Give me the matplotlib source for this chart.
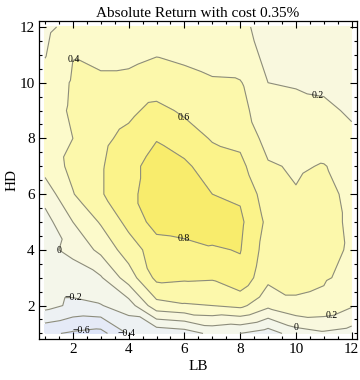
import numpy as np
import matplotlib
matplotlib.use("Agg")
import matplotlib.pyplot as plt
import matplotlib.tri as mtri
from matplotlib.ticker import MultipleLocator

# ---------------- data ----------------
LB = [1, 2, 3, 4, 5, 6, 7, 8, 9, 10, 11, 12]
HD = [1, 2, 3, 4, 5, 6, 7, 8, 9, 10, 11, 12]

# absolute return, one row per HD value (HD = 12 first, HD = 1 last)
ret_hd12 = [0.15, 0.27, 0.30, 0.32, 0.34, 0.33, 0.30, 0.23, 0.15, 0.14, 0.13, 0.12]
ret_hd11 = [0.19, 0.395, 0.36, 0.37, 0.395, 0.37, 0.33, 0.26, 0.17, 0.15, 0.15, 0.13]
ret_hd10 = [0.27, 0.42, 0.43, 0.43, 0.46, 0.45, 0.42, 0.415, 0.20, 0.18, 0.17, 0.15]
ret_hd9 = [0.30, 0.43, 0.48, 0.55, 0.67, 0.56, 0.50, 0.45, 0.30, 0.27, 0.23, 0.18]
ret_hd8 = [0.30, 0.40, 0.55, 0.66, 0.79, 0.72, 0.58, 0.55, 0.33, 0.32, 0.30, 0.23]
ret_hd7 = [0.28, 0.45, 0.58, 0.74, 0.88, 0.83, 0.72, 0.65, 0.42, 0.38, 0.41, 0.32]
ret_hd6 = [0.08, 0.39, 0.58, 0.76, 0.88, 0.90, 0.80, 0.77, 0.49, 0.41, 0.46, 0.35]
ret_hd5 = [-0.08, 0.20, 0.42, 0.66, 0.88, 0.92, 0.90, 0.84, 0.55, 0.48, 0.46, 0.37]
ret_hd4 = [-0.05, 0.05, 0.25, 0.50, 0.70, 0.72, 0.78, 0.81, 0.50, 0.45, 0.45, 0.38]
ret_hd3 = [-0.10, -0.10, -0.02, 0.30, 0.65, 0.63, 0.62, 0.74, 0.45, 0.45, 0.42, 0.35]
ret_hd2 = [-0.13, -0.24, -0.21, -0.10, 0.33, 0.38, 0.40, 0.45, 0.25, 0.37, 0.35, 0.22]
ret_hd1 = [-0.56, -0.63, -0.67, -0.38, -0.35, -0.30, -0.15, -0.20, -0.30, -0.10, -0.03, -0.08]

contour_levels = [-0.6, -0.4, -0.2, 0.0, 0.2, 0.4, 0.6, 0.8]
label_positions = [(2.0, 10.93), (6.0, 8.8), (6.0, 4.45), (10.8, 9.76),
                   (1.5, 3.96), (2.0, 2.3), (2.3, 1.05), (4.0, 1.06),
                   (11.3, 1.6), (10.0, 1.24)]

title = "Absolute Return with cost 0.35%"
xlabel = "LB"
ylabel = "HD"

# ---------------- build ----------------
rows = [ret_hd1, ret_hd2, ret_hd3, ret_hd4, ret_hd5, ret_hd6,
        ret_hd7, ret_hd8, ret_hd9, ret_hd10, ret_hd11, ret_hd12]
Z = np.array(rows)
X, Y = np.meshgrid(LB, HD)
nx, ny = len(LB), len(HD)

tris = []
for j in range(ny - 1):
    for i in range(nx - 1):
        bl = j * nx + i
        br = bl + 1
        tl = bl + nx
        tr = tl + 1
        tris.append([bl, br, tl])
        tris.append([br, tr, tl])
tri = mtri.Triangulation(X.ravel(), Y.ravel(), np.array(tris))

fill_levels = [-2.0] + contour_levels + [2.0]
fill_colors = ["#dde4f8", "#e5eaf7", "#edf1f3", "#f4f6ea", "#f9f8de",
               "#fcfacb", "#fcf8ab", "#fbf38a", "#f8ec6c"]

plt.rcParams['font.family'] = ['Liberation Serif', 'DejaVu Serif']

fig = plt.figure(figsize=(3.6, 3.8), dpi=100)
ax = fig.add_axes([39 / 360, 41 / 380, 318 / 360, 318 / 380])

ax.tricontourf(tri, Z.ravel(), levels=fill_levels, colors=fill_colors)
cs = ax.tricontour(tri, Z.ravel(), levels=contour_levels,
                   colors="#8c8c7c", linewidths=0.8,
                   negative_linestyles="solid")


def fmt(v):
    if abs(v) < 1e-9:
        return "0"
    s = f"{v:.1f}"
    return s.replace("-", "\u2212")


texts = ax.clabel(cs, fmt=fmt, fontsize=7, manual=label_positions,
                  inline=False, colors="black")
for t in texts:
    t.set_rotation(0)

ax.set_xlim(0.785, 12.19)
ax.set_ylim(0.80, 12.215)

ax.xaxis.set_major_locator(MultipleLocator(2))
ax.yaxis.set_major_locator(MultipleLocator(2))
ax.xaxis.set_minor_locator(MultipleLocator(0.5))
ax.yaxis.set_minor_locator(MultipleLocator(0.5))
ax.tick_params(which="both", direction="in", top=True, right=True,
               labelsize=11, width=0.8)
ax.tick_params(which="major", length=5, pad=3)
ax.tick_params(which="minor", length=2.5)
for sp in ax.spines.values():
    sp.set_linewidth(0.9)

ax.set_title(title, fontsize=11, pad=3)
ax.set_xlabel(xlabel, fontsize=11, labelpad=3)
ax.set_ylabel(ylabel, fontsize=11, labelpad=1)

fig.savefig("out.png", dpi=100)
